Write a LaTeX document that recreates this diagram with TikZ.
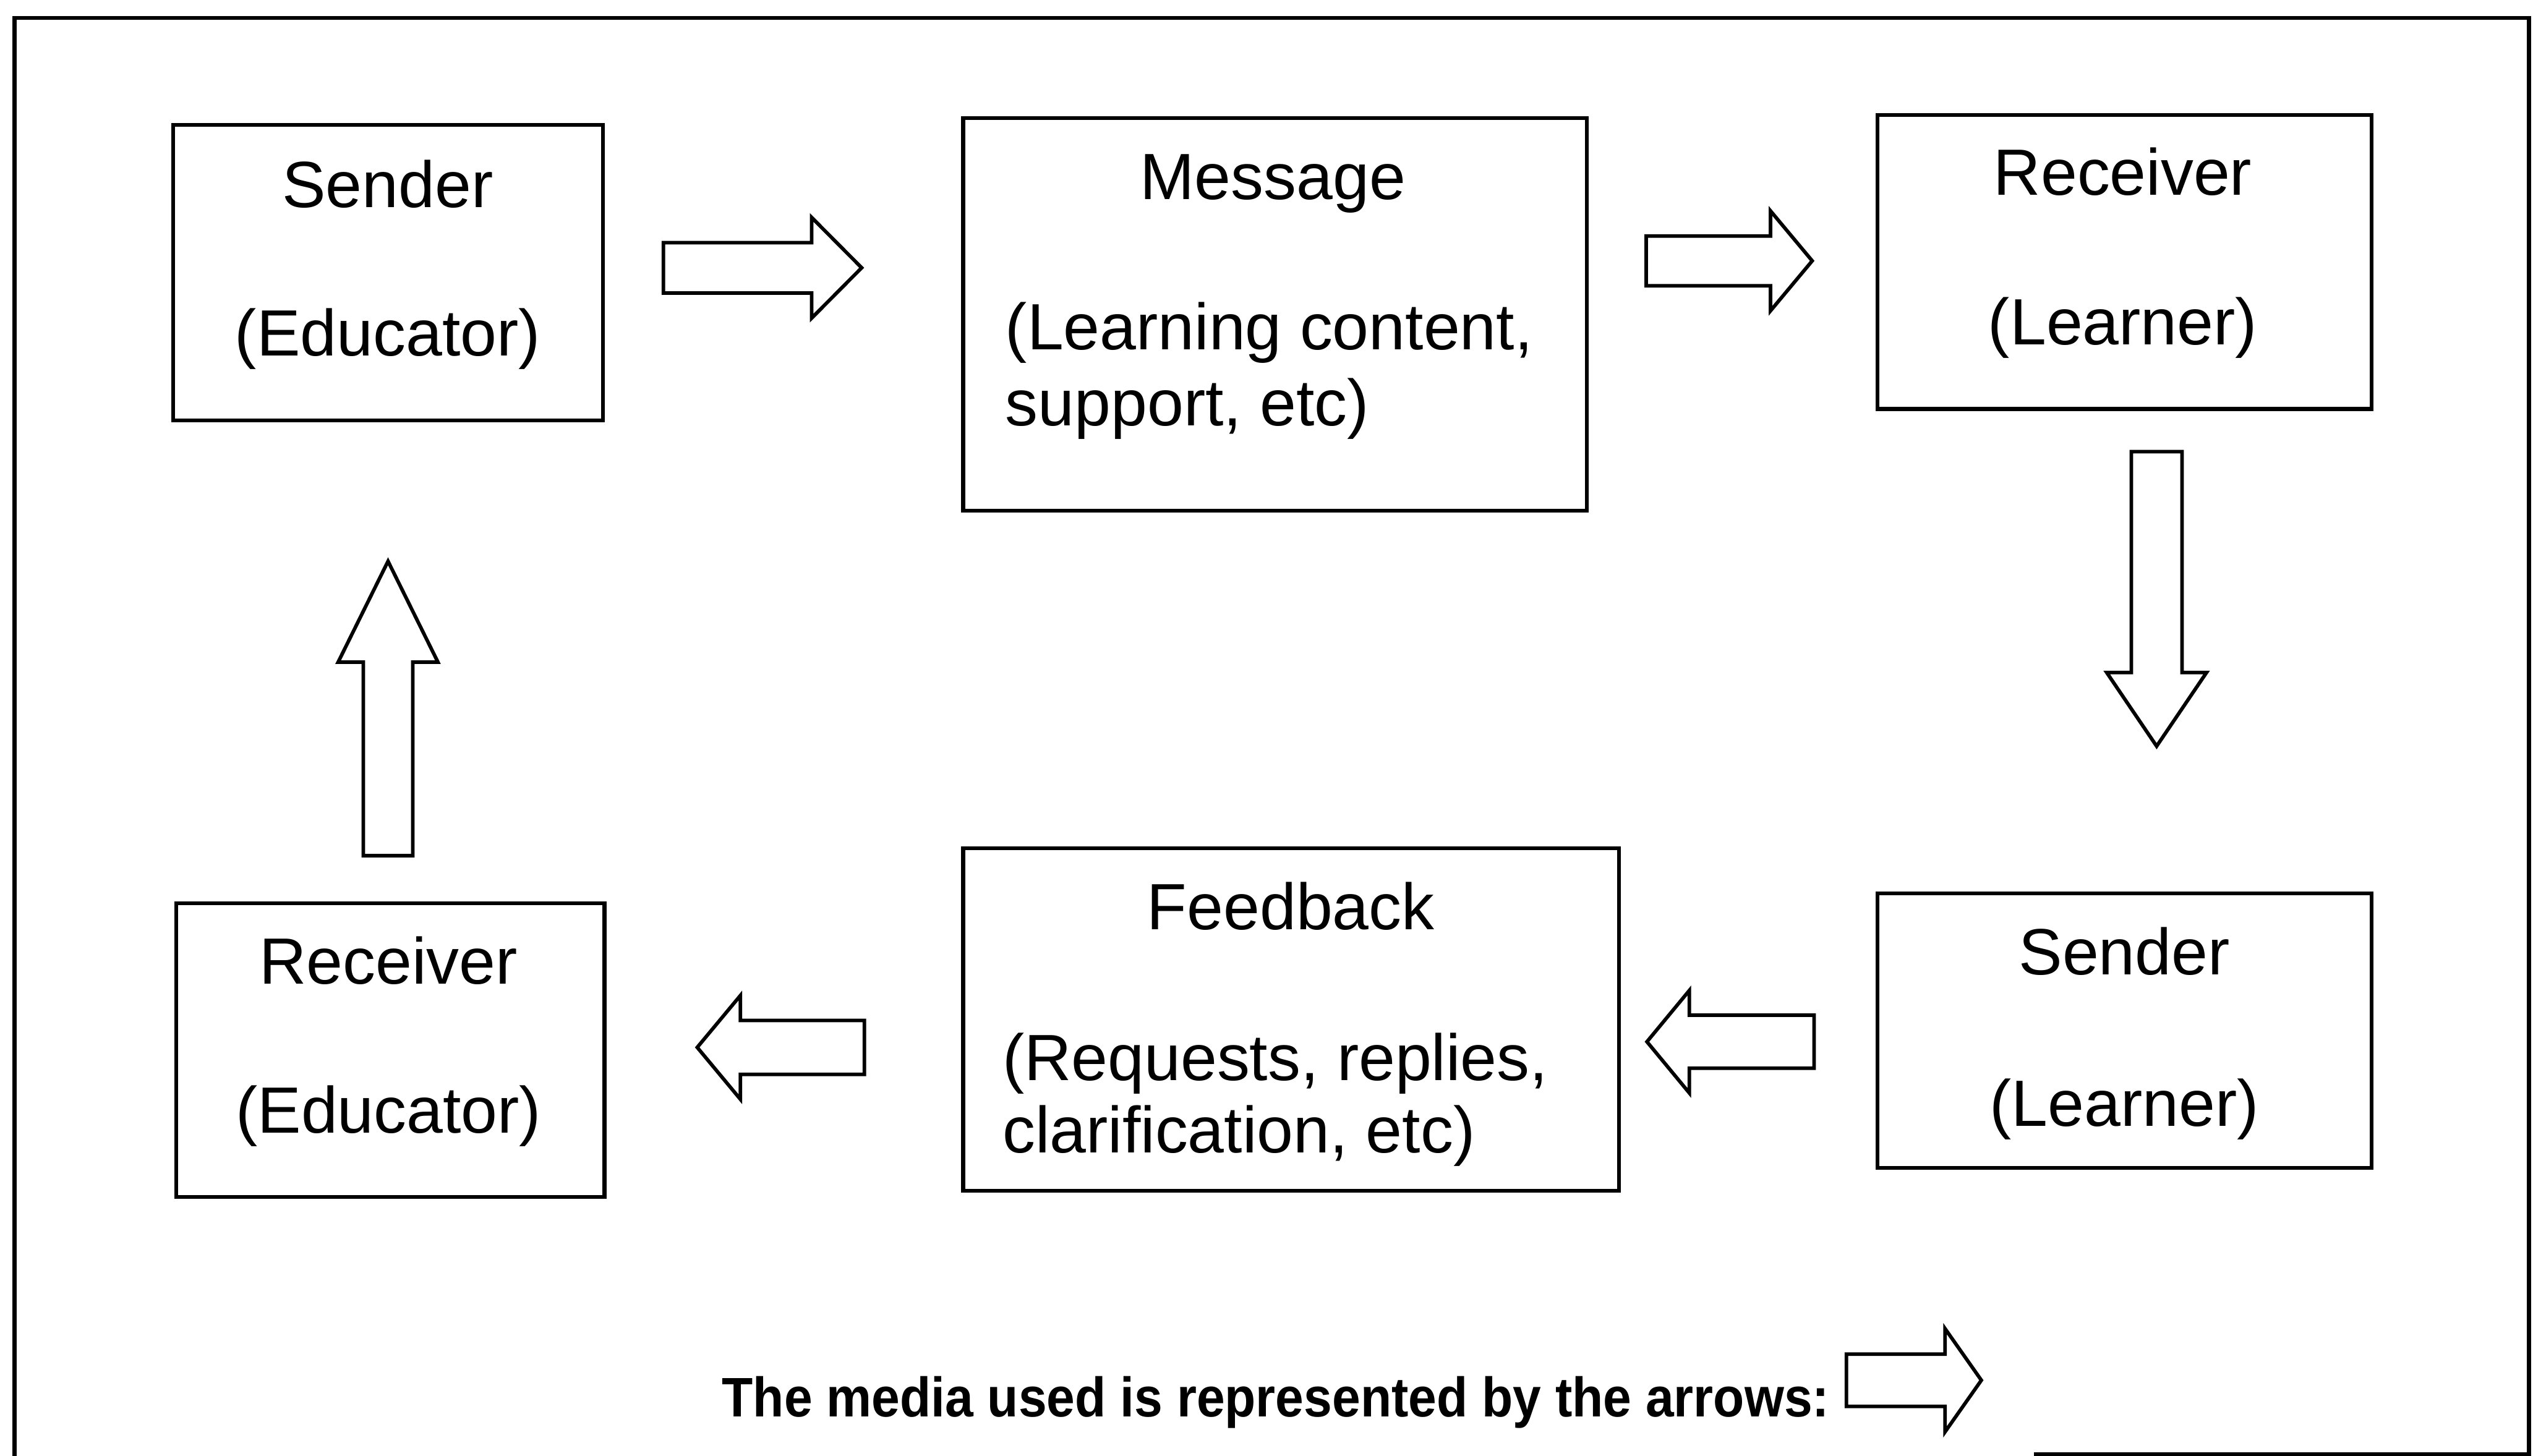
\documentclass[tikz,border=0pt]{standalone}
\usepackage{graphicx}
\usepackage{fontspec}
\setmainfont{Liberation Sans}
\begin{document}
\begin{tikzpicture}[x=0.5pt,y=-0.5pt,
  box/.style={draw, line width=1.2pt, rectangle, inner sep=0pt, anchor=north west},
  lbl/.style={anchor=base, inner sep=0pt, font=\fontsize{20.25}{24}\selectfont},
  lbll/.style={lbl, anchor=base west},
  frameline/.style={line width=1.2pt},
  arrowline/.style={draw, line width=1.1pt, line join=miter, fill=white},
  pics/blockarrow/.style n args={4}{code={
    % #1 length, #2 shaft half-width, #3 head half-width, #4 head length
    \path[arrowline] (0,-#2) -- ({#1-#4},-#2) -- ({#1-#4},-#3) -- (#1,0)
      -- ({#1-#4},#3) -- ({#1-#4},#2) -- (0,#2) -- cycle;
  }},
]
\useasboundingbox (0,0) rectangle (1568,901.4);

% outer frame
\draw[frameline] (9,906) -- (9,11) -- (1565.5,11) -- (1565.5,900.3) -- (1259,900.3);

% boxes
\node[box, minimum width=133pt, minimum height=91.5pt] (sendEdu) at (106,76) {};
\node[box, minimum width=193pt, minimum height=121.5pt] (msg) at (595,72) {};
\node[box, minimum width=153pt, minimum height=91pt] (recvLrn) at (1161,70) {};
\node[box, minimum width=153pt, minimum height=85pt] (sendLrn) at (1161,552) {};
\node[box, minimum width=203pt, minimum height=106pt] (fb) at (595,524) {};
\node[box, minimum width=132.5pt, minimum height=91pt] (recvEdu) at (108,558) {};

% box texts
\node[lbl] (t1a) at (240,128.3) {Sender};
\node[lbl] (t1b) at (240,220.3) {(Educator)};
\node[lbl] (t2a) at (788,123.5) {Message};
\node[lbll] (t2b) at (622,216.3) {(Learning content,};
\node[lbll] (t2c) at (622,263.5) {support, etc)};
\node[lbl] (t3a) at (1314,120.8) {Receiver};
\node[lbl] (t3b) at (1314,213.5) {(Learner)};
\node[lbl] (t4a) at (1315,603.3) {Sender};
\node[lbl] (t4b) at (1315,697.4) {(Learner)};
\node[lbl] (t5a) at (799,575.4) {Feedback};
\node[lbll] (t5b) at (620.2,669.1) {(Requests, replies,};
\node[lbll] (t5c) at (620.2,713.6) {clarification, etc)};
\node[lbl] (t6a) at (240.5,609.1) {Receiver};
\node[lbl] (t6b) at (240.5,701.6) {(Educator)};

% block arrows (media)
\pic at (410.7,165.8) {blockarrow={122.7}{15.6}{31.2}{31}};
\pic at (1019,161.5) {blockarrow={102.8}{15.4}{30.9}{25.8}};
\pic[rotate=-90] at (1335,279.6) {blockarrow={182.4}{15.7}{30.9}{45.6}};
\pic[rotate=180] at (1123,645) {blockarrow={103.5}{16.4}{31.7}{26.2}};
\pic[rotate=180] at (535.1,648.5) {blockarrow={103.5}{16.7}{32.1}{26.7}};
\pic[rotate=90] at (240.2,529.8) {blockarrow={182.3}{15.3}{30.9}{62.5}};

% legend
\node[anchor=base west, inner sep=0pt, font=\bfseries\fontsize{17.25}{20}\selectfont] (legend)
  at (446.6,877.3) {\scalebox{0.912}[1]{The media used is represented by the arrows:}};
\pic at (1143,854.6) {blockarrow={83.5}{16.2}{32}{22.5}};
\end{tikzpicture}
\end{document}
